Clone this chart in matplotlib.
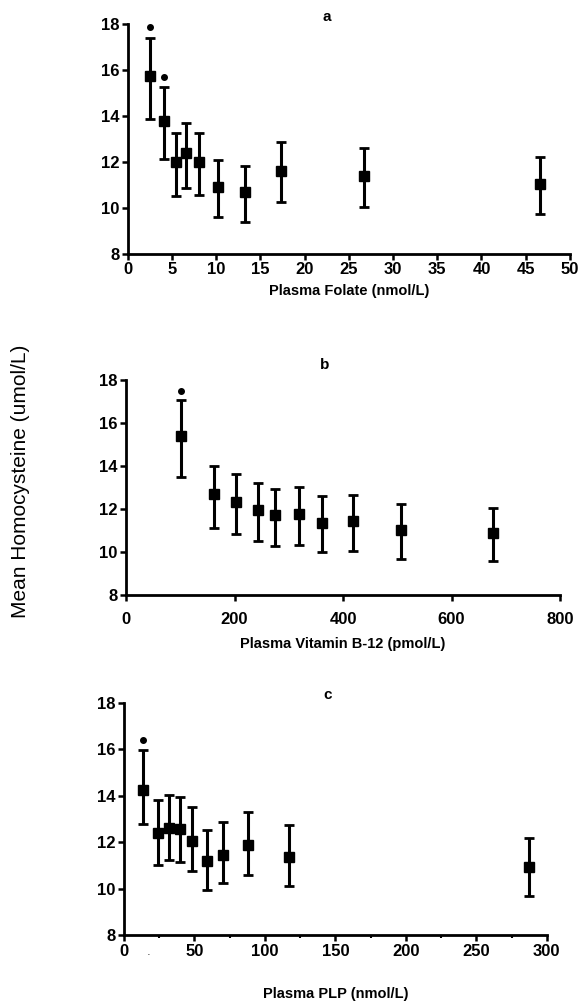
import matplotlib
matplotlib.use("Agg")
import matplotlib.pyplot as plt
from matplotlib.ticker import MultipleLocator

plt.rcParams['font.family'] = ['Liberation Sans', 'DejaVu Sans']

# Panel a: folate
folate_x = [2.52, 4.14, 5.46, 6.63, 8.10, 10.21, 13.26, 17.33, 26.71, 46.57]
folate_y = [15.74, 13.79, 11.99, 12.41, 12.01, 10.91, 10.68, 11.63, 11.39, 11.04]
folate_hi = [17.41, 15.25, 13.25, 13.70, 13.27, 12.08, 11.84, 12.86, 12.62, 12.24]
folate_lo = [13.88, 12.14, 10.53, 10.89, 10.56, 9.62, 9.39, 10.26, 10.03, 9.74]
folate_sig = [True, True, False, False, False, False, False, False, False, False]

# Panel b: vitamin B-12
b12_x = [101.4, 161.6, 203.4, 242.7, 274.0, 318.3, 360.7, 419.0, 506.9, 676.5]
b12_y = [15.40, 12.68, 12.33, 11.94, 11.70, 11.78, 11.36, 11.44, 11.02, 10.88]
b12_hi = [17.05, 14.02, 13.63, 13.22, 12.95, 13.02, 12.59, 12.67, 12.23, 12.03]
b12_lo = [13.50, 11.12, 10.85, 10.50, 10.28, 10.33, 9.98, 10.06, 9.67, 9.58]
b12_sig = [True] + [False] * 9

# Panel c: PLP
plp_x = [13.7, 23.9, 31.7, 39.7, 48.3, 58.7, 70.0, 88.2, 116.9, 287.7]
plp_y = [14.26, 12.39, 12.60, 12.55, 12.06, 11.19, 11.45, 11.86, 11.38, 10.91]
plp_hi = [15.97, 13.81, 14.03, 13.93, 13.50, 12.53, 12.85, 13.29, 12.76, 12.20]
plp_lo = [12.78, 11.02, 11.22, 11.15, 10.76, 9.94, 10.22, 10.59, 10.13, 9.70]
plp_sig = [True] + [False] * 9

y_ticks = [8, 10, 12, 14, 16, 18]

panels = [
    dict(x=folate_x, y=folate_y, hi=folate_hi, lo=folate_lo, sig=folate_sig,
         xlim=(0, 50), xticks=list(range(0, 51, 5)), minor=None, title='a',
         xlabel='Plasma Folate (nmol/L)', pos=[0.221, 0.7465, 0.765, 0.2295],
         tpos=(0.451, 1.03), pad=2, labelpad=5),
    dict(x=b12_x, y=b12_y, hi=b12_hi, lo=b12_lo, sig=b12_sig,
         xlim=(0, 800), xticks=[0, 200, 400, 600, 800], minor=None, title='b',
         xlabel='Plasma Vitamin B-12 (pmol/L)', pos=[0.218, 0.4062, 0.751, 0.2146],
         tpos=(0.458, 1.07), pad=8.5, labelpad=7),
    dict(x=plp_x, y=plp_y, hi=plp_hi, lo=plp_lo, sig=plp_sig,
         xlim=(0, 300), xticks=[0, 50, 100, 150, 200, 250, 300], minor=25, title='c',
         xlabel='Plasma PLP (nmol/L)', pos=[0.2145, 0.0669, 0.7315, 0.2315],
         tpos=(0.482, 1.035), pad=2.5, labelpad=20),
]

fig = plt.figure(figsize=(5.78, 10.02), dpi=100)

for p in panels:
    ax = fig.add_axes(p['pos'])
    yerr = [[yv - l for yv, l in zip(p['y'], p['lo'])],
            [h - yv for yv, h in zip(p['y'], p['hi'])]]
    ax.errorbar(p['x'], p['y'], yerr=yerr, fmt='s', color='black', ms=6.5,
                elinewidth=2.2, capsize=3.5, capthick=2.0, ecolor='black')
    sx = [xv for xv, s in zip(p['x'], p['sig']) if s]
    sy = [h + 0.45 for h, s in zip(p['hi'], p['sig']) if s]
    ax.plot(sx, sy, 'o', color='black', ms=4, clip_on=False)
    ax.set_xlim(*p['xlim'])
    ax.set_ylim(8, 18)
    ax.set_xticks(p['xticks'])
    ax.set_yticks(y_ticks)
    if p['minor']:
        ax.xaxis.set_minor_locator(MultipleLocator(p['minor']))
        ax.tick_params(axis='x', which='minor', direction='out', length=2, width=1.5)
    for sp in ['top', 'right']:
        ax.spines[sp].set_visible(False)
    for sp in ['left', 'bottom']:
        ax.spines[sp].set_linewidth(2.0)
    ax.tick_params(which='major', direction='out', length=4, width=1.8, labelsize=12)
    ax.tick_params(axis='x', which='major', pad=p['pad'])
    ax.tick_params(axis='y', which='major', pad=2)
    for lab in ax.get_xticklabels() + ax.get_yticklabels():
        lab.set_fontweight('bold')
    ax.set_xlabel(p['xlabel'], fontsize=10.5, fontweight='bold', labelpad=p['labelpad'])
    ax.text(p['tpos'][0], p['tpos'][1], p['title'], transform=ax.transAxes,
            ha='center', va='center', fontsize=11, fontweight='bold')
    ax.patch.set_alpha(0)

fig.text(0.035, 0.52, 'Mean Homocysteine (umol/L)', rotation=90, ha='center',
         va='center', fontsize=15)
fig.text(149 / 578, 1 - 955 / 1002, '\u00b7', ha='center', va='center', fontsize=8)

fig.savefig('out.png', dpi=100)
